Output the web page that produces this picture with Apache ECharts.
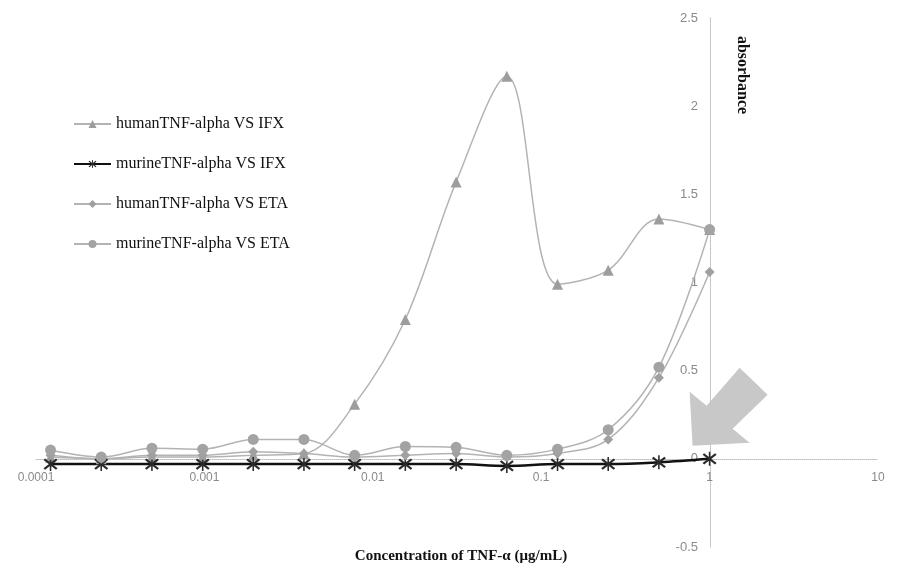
<!DOCTYPE html>
<html>
<head>
<meta charset="utf-8">
<script src="https://cdn.jsdelivr.net/npm/echarts@6/dist/echarts.min.js"></script>
<style>html,body{margin:0;padding:0;background:#fff}#c{width:900px;height:573px}</style>
</head>
<body>
<div id="c"></div>
<script>
// Concentrations (µg/mL), serial two-fold dilutions
const conc = [0.000122, 0.000244, 0.000488, 0.000977, 0.00195, 0.0039, 0.0078, 0.0156, 0.03125, 0.0625, 0.125, 0.25, 0.5, 1];
const seriesNames = ['humanTNF-alpha VS IFX', 'murineTNF-alpha VS IFX', 'humanTNF-alpha VS ETA', 'murineTNF-alpha VS ETA'];
const humanIFX  = [0.01, 0.0, 0.01, 0.01, 0.02, 0.03, 0.31, 0.79, 1.57, 2.17, 0.99, 1.07, 1.36, 1.30];
const murineIFX = [-0.03, -0.03, -0.03, -0.03, -0.03, -0.03, -0.03, -0.03, -0.03, -0.04, -0.03, -0.03, -0.02, 0.0];
const humanETA  = [0.02, 0.0, 0.02, 0.02, 0.04, 0.03, 0.01, 0.02, 0.03, 0.01, 0.03, 0.11, 0.46, 1.06];
const murineETA = [0.05, 0.01, 0.06, 0.055, 0.11, 0.11, 0.02, 0.07, 0.065, 0.02, 0.055, 0.165, 0.52, 1.30];
const xTicks = [0.0001, 0.001, 0.01, 0.1, 1, 10];
const yTicks = [-0.5, 0, 0.5, 1, 1.5, 2, 2.5];
const xTitle = 'Concentration of TNF-\u03b1 (\u03bcg/mL)';
const yTitle = 'absorbance';

const pair = arr => conc.map((c, i) => [c, arr[i]]);
const starPath = 'path://M9,0L11,0L11,20L9,20Z M1,4L3,2L19,16L17,18Z M17,2L19,4L3,18L1,16Z';

const chart = echarts.init(document.getElementById('c'), null, {renderer: 'canvas'});
const W = 900, H = 573;
const gridLeft = 36, gridRight = 22, gridTop = 18, gridBottom = 26;
const yMin = yTicks[0], yMax = yTicks[yTicks.length - 1];
// place x axis at y = 0 and y axis at x = 1 (axis crossing, as in the original)
const plotH = H - gridTop - gridBottom;
const zeroFromBottom = plotH * (0 - yMin) / (yMax - yMin);
const option = {
  backgroundColor: '#fff',
  animation: false,
  grid: {left: gridLeft, right: gridRight, top: gridTop, bottom: gridBottom, outerBoundsMode: 'none', containLabel: false},
  legend: {
    orient: 'vertical', left: 68, top: 111, itemGap: 24, itemWidth: 37, itemHeight: 10,
    textStyle: {fontFamily: 'Liberation Serif', fontSize: 16, color: '#111'},
    data: seriesNames
  },
  xAxis: {
    type: 'log', logBase: 10, min: xTicks[0], max: xTicks[xTicks.length - 1],
    position: 'bottom', offset: -zeroFromBottom,
    axisLine: {onZero: false, lineStyle: {color: '#bbb', type: 'dotted', width: 1}},
    axisTick: {show: false},
    splitLine: {show: false},
    axisLabel: {color: '#8a8a8a', fontFamily: 'Liberation Sans', fontSize: 12, margin: 13,
      formatter: v => String(Number(Number(v).toPrecision(6)))}
  },
  yAxis: {
    type: 'value', min: yMin, max: yMax, interval: 0.5,
    position: 'left', offset: -(710 - gridLeft),
    axisLine: {show: true, onZero: false, lineStyle: {color: '#bbb', type: 'dotted', width: 1}},
    axisTick: {show: false},
    splitLine: {show: false},
    axisLabel: {color: '#8a8a8a', fontFamily: 'Liberation Sans', fontSize: 13, margin: 12}
  },
  series: [
    {name: seriesNames[0], type: 'line', smooth: 0.35, data: pair(humanIFX),
     symbol: 'triangle', symbolSize: 11,
     lineStyle: {color: '#b3b3b3', width: 1.5}, itemStyle: {color: '#9d9d9d'}},
    {name: seriesNames[1], type: 'line', smooth: 0.35, data: pair(murineIFX),
     symbol: starPath, symbolSize: 14,
     lineStyle: {color: '#111', width: 2.5}, itemStyle: {color: '#2a2a2a'}},
    {name: seriesNames[2], type: 'line', smooth: 0.35, data: pair(humanETA),
     symbol: 'diamond', symbolSize: 10,
     lineStyle: {color: '#b3b3b3', width: 1.5}, itemStyle: {color: '#a0a0a0'}},
    {name: seriesNames[3], type: 'line', smooth: 0.35, data: pair(murineETA),
     symbol: 'circle', symbolSize: 11,
     lineStyle: {color: '#b3b3b3', width: 1.5}, itemStyle: {color: '#a3a3a3'}}
  ]
};
chart.setOption(option);

// annotation arrow pointing at the murine IFX point at 1 µg/mL, plus axis titles
const p = chart.convertToPixel({gridIndex: 0}, [1, 0]);
const rel = [[-17,-13],[-20,-67],[-3,-53],[30,-91],[58,-64],[23,-30],[40,-16]];
chart.setOption({
  graphic: [
    {type: 'polygon', z: 1, shape: {points: rel.map(r => [p[0] + r[0], p[1] + r[1]])},
     style: {fill: '#c8c8c8'}},
    {type: 'text', x: 461, y: 556,
     style: {text: xTitle, font: 'bold 15px "Liberation Serif"', fill: '#111', align: 'center', verticalAlign: 'middle'}},
    {type: 'text', x: 742, y: 75, rotation: -Math.PI / 2,
     style: {text: yTitle, font: 'bold 16px "Liberation Serif"', fill: '#111', align: 'center', verticalAlign: 'middle'}}
  ]
});
</script>
</body>
</html>
